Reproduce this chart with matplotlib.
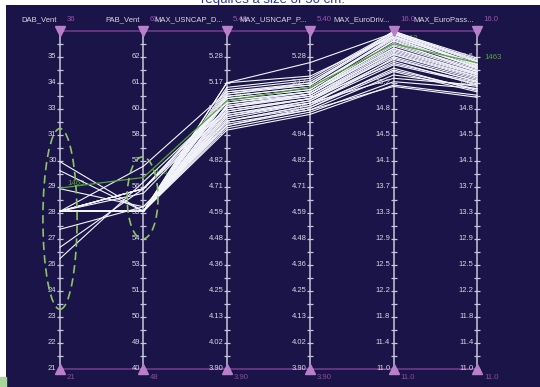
import matplotlib.pyplot as plt
from matplotlib.patches import Ellipse, Rectangle

plt.rcParams['font.family'] = ['Liberation Sans', 'DejaVu Sans']

# axes of the parallel plot
names = ["DAB_Vent", "PAB_Vent", "MAX_USNCAP_D...", "MAX_USNCAP_P...",
         "MAX_EuroDriv...", "MAX_EuroPass..."]
mins = [21, 48, 3.90, 3.90, 11.0, 11.0]
maxs = [36, 63, 5.40, 5.40, 16.0, 16.0]
min_labels = ["21", "48", "3.90", "3.90", "11.0", "11.0"]
max_labels = ["36", "63", "5.40", "5.40", "16.0", "16.0"]

usncap_ticks = ["3.90", "4.02", "4.13", "4.25", "4.36", "4.48", "4.59",
                "4.71", "4.82", "4.94", "5.05", "5.17", "5.28"]
euro_ticks = ["11.0", "11.4", "11.8", "12.2", "12.5", "12.9", "13.3",
              "13.7", "14.1", "14.5", "14.8", "15.2", "15.6"]
tick_labels = [
    ["21", "22", "23", "24", "26", "27", "28", "29", "30", "31", "33", "34", "35"],
    ["40", "49", "50", "51", "53", "54", "55", "56", "57", "58", "60", "61", "62"],
    usncap_ticks, usncap_ticks, euro_ticks, euro_ticks,
]

# designs (one value per axis)
dab = [30.2, 29.8, 29.0, 28.0, 28.0, 28.0, 28.0, 28.0, 28.0, 28.0,
       28.0, 28.0, 28.0, 28.0, 28.0, 28.0, 28.0, 28.0, 28.0, 28.0,
       28.0, 27.2, 26.4, 25.9, 28.0, 28.0, 28.0, 28.0, 28.0, 28.0,
       28.0, 28.0, 28.0, 28.0, 28.0, 28.0, 28.0, 28.0]
pab = [55.0, 55.0, 55.2, 56.0, 56.0, 55.8, 55.0, 55.0, 55.0, 55.0,
       55.0, 55.0, 55.0, 55.0, 55.0, 55.0, 55.0, 55.0, 55.0, 55.0,
       57.0, 55.2, 56.0, 56.3, 55.0, 55.0, 55.0, 55.0, 55.0, 55.0,
       55.0, 55.0, 56.0, 56.0, 55.0, 55.0, 55.0, 55.0]
usncap_d = [5.02, 5.05, 4.98, 5.10, 5.08, 5.06, 5.00, 5.03, 5.12, 5.14,
            5.17, 5.17, 4.96, 4.97, 4.99, 5.01, 5.04, 5.07, 5.09, 5.11,
            5.13, 5.00, 5.06, 5.08, 5.02, 5.05, 5.06, 5.10, 5.13, 5.15,
            4.98, 5.03, 5.04, 5.09, 5.07, 5.11, 5.00, 5.12]
usncap_p = [5.08, 5.10, 5.06, 5.14, 5.13, 5.12, 5.07, 5.09, 5.16, 5.18,
            5.26, 5.20, 5.03, 5.04, 5.05, 5.08, 5.10, 5.11, 5.13, 5.15,
            5.17, 5.06, 5.11, 5.12, 5.09, 5.10, 5.12, 5.14, 5.16, 5.19,
            5.05, 5.08, 5.10, 5.13, 5.12, 5.15, 5.07, 5.17]
euro_driv = [15.55, 15.70, 15.40, 15.90, 15.85, 15.75, 15.60, 15.65, 15.95, 15.98,
             15.97, 15.92, 15.20, 15.25, 15.35, 15.50, 15.62, 15.68, 15.80, 15.88,
             15.96, 15.45, 15.72, 15.78, 15.58, 15.66, 15.82, 15.93, 16.00, 15.99,
             15.18, 15.30, 15.52, 15.86, 15.74, 15.91, 15.42, 15.96]
euro_pass = [15.20, 15.35, 15.10, 15.45, 15.40, 15.38, 15.25, 15.30, 15.50, 15.55,
             15.58, 15.52, 15.05, 15.15, 15.18, 15.22, 15.28, 15.33, 15.42, 15.47,
             15.50, 15.12, 15.36, 15.40, 15.26, 15.32, 15.44, 15.48, 15.56, 15.60,
             15.02, 15.20, 15.24, 15.46, 15.37, 15.50, 15.14, 15.54]

# highlighted design
best_id = "1463"
best = [29.03, 56.5, 5.09, 5.15, 15.81, 15.53]

BG = '#1b1449'
AXIS_C = '#c8c8d8'
TEXT_C = '#d8d8e2'
PURPLE = '#9a55b0'
GREEN = '#55a535'


def norm(values, i):
    return [(v - mins[i]) / (maxs[i] - mins[i]) for v in values]


fig = plt.figure(figsize=(5.4, 3.87), dpi=100)
ax = fig.add_axes([6 / 540, 0, 534 / 540, 382 / 387])
ax.set_facecolor(BG)
ax.set_xlim(-0.6475, 5.755)
ax.set_ylim(-0.0533, 1.0769)
ax.axis('off')
ax.add_patch(Rectangle((0, 0), 1, 1, transform=ax.transAxes, color=BG, zorder=0))

n = len(names)
xs = list(range(n))

# frame lines top / bottom
ax.plot([0, n - 1], [1, 1], color='#6e3a8e', lw=1.2, zorder=1)
ax.plot([0, n - 1], [0, 0], color='#6e3a8e', lw=1.2, zorder=1)

# axes with ticks
for i in xs:
    ax.plot([i, i], [0, 1], color=AXIS_C, lw=1.1, zorder=2)
    ticks = [k / 26 for k in range(27)]
    ax.plot([i] * len(ticks), ticks, ls='none', marker='_', ms=4.5,
            mew=0.9, color=AXIS_C, zorder=2)
    for k, lab in enumerate(tick_labels[i]):
        ax.annotate(lab, (i, k / 13), xytext=(-2.5, 0), textcoords='offset points',
                    ha='right', va='center', fontsize=5.5, color=TEXT_C, zorder=6)
    ax.annotate(names[i], (i, 1), xytext=(-2.5, 8), textcoords='offset points',
                ha='right', va='center', fontsize=5.5, color=TEXT_C, zorder=6)
    ax.annotate(max_labels[i], (i, 1), xytext=(4.5, 8), textcoords='offset points',
                ha='left', va='center', fontsize=5.6, color=PURPLE, zorder=6)
    ax.annotate(min_labels[i], (i, 0), xytext=(5, -6), textcoords='offset points',
                ha='left', va='center', fontsize=5.6, color='#8a4aa0', zorder=6)

# green labels for the highlighted design (under the lines)
best_n = [norm([v], i)[0] for i, v in enumerate(best)]
for i in xs:
    ax.annotate(best_id, (i, best_n[i]), xytext=(5, 3.5), textcoords='offset points',
                ha='left', va='center', fontsize=5.6, color=GREEN, zorder=3)

# all designs
cols = [norm(dab, 0), norm(pab, 1), norm(usncap_d, 2), norm(usncap_p, 3),
        norm(euro_driv, 4), norm(euro_pass, 5)]
for j in range(len(dab)):
    ax.plot(xs, [c[j] for c in cols], color='#f4f4fc', lw=0.8, zorder=4)

ax.plot(xs, best_n, color=GREEN, lw=0.9, zorder=5)

# axis markers
ax.plot(xs, [1] * n, ls='none', marker='v', ms=7, color='#b97fc9', zorder=7)
ax.plot(xs, [0] * n, ls='none', marker='^', ms=7, color='#b97fc9', zorder=7)

# selection ellipses
for cx, cy, w, h in [(0, 0.444, 0.41, 0.535), (0.99, 0.506, 0.37, 0.243)]:
    ax.add_patch(Ellipse((cx, cy), w, h, fill=False, ec='#8cc466', lw=1.2,
                         ls=(0, (5, 3)), zorder=8))

# cut-off caption behind the plot panel, scrap of page at bottom left
fig.text(273 / 540, 1 - 2.5 / 387, "requires a size of 50 cm.", color='#2a3aa8',
         ha='center', va='baseline', fontsize=9.5, zorder=-1)
fig.patches.append(Rectangle((0, 0), 6 / 540, 10 / 387, transform=fig.transFigure,
                             color='#a9d49a', zorder=0))

fig.savefig('out.png', dpi=100)
